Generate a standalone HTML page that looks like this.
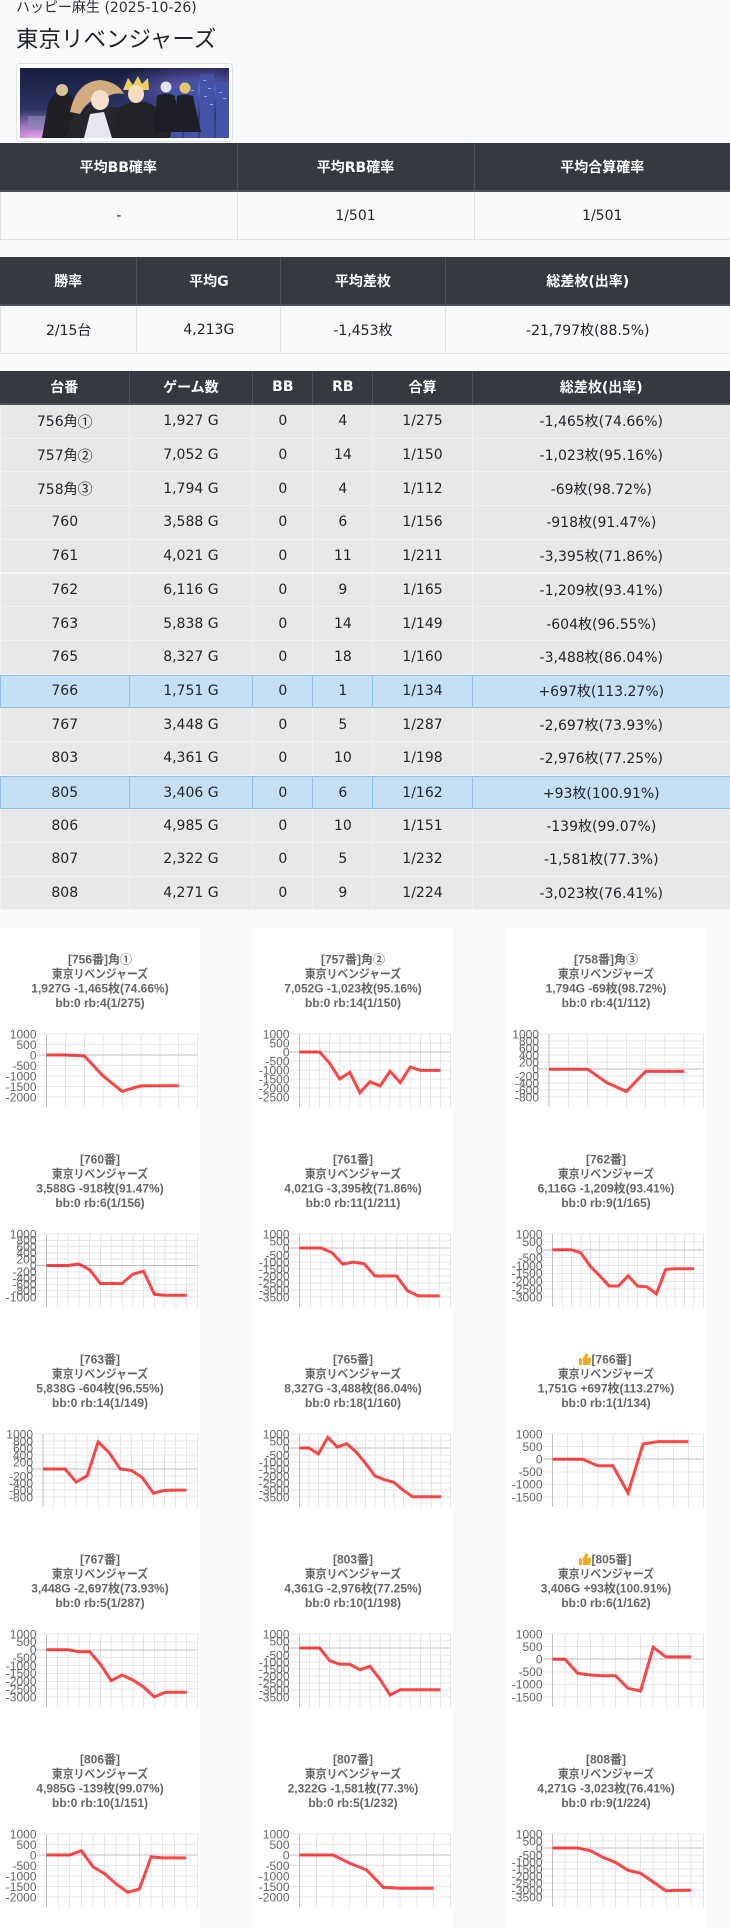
<!DOCTYPE html>
<html><head><meta charset="utf-8">
<style>
*{margin:0;padding:0;box-sizing:border-box}
body{width:730px;height:1928px;background:#f8f9fa;position:relative;overflow:hidden;font-family:"DejaVu Sans","Noto Sans CJK JP",sans-serif;color:#212529}
.sub{position:absolute;left:16px;top:-2px;font-size:14px;line-height:21px;color:#2b2f33;white-space:nowrap}
.h{position:absolute;left:16px;top:23px;font-size:22.5px;line-height:30px;font-family:"Noto Sans CJK JP",sans-serif;color:#212529;white-space:nowrap}
.tb{position:absolute;left:16px;top:63px;width:217px;height:79px;border:1px solid #dee2e6;border-radius:4px;background:#fff}
.r{position:absolute;left:0;width:730px;display:flex}
.r>div{display:flex;align-items:center;justify-content:center;white-space:nowrap;font-size:14px}
.c{font-family:"Noto Sans CJK JP",sans-serif;font-size:15px}
.hd{background:#343a40;color:#fff;font-weight:bold;border-bottom:2px solid #4b5259}
.hd>div{border-left:1px solid #4b5259}
.hd>div:first-child{border-left:none}
.dt{background:#f8f9fa;border-bottom:1px solid #dee2e6}
.dt>div{border-left:1px solid #dee2e6}
.g{background:#e8e8e8;border-bottom:1px solid #f1f1f1;height:33.7px}
.g>div{border-left:1px solid #f1f1f1}
.b{background:#c5e0f5;border-top:1px solid #8dc0ec;border-bottom:1px solid #8dc0ec;height:33.7px}
.b>div{border-left:1px solid #8dc0ec}
.t1>div:nth-child(1){width:236.5px}.t1>div:nth-child(2){width:237px}.t1>div:nth-child(3){width:256.5px}
.t2>div:nth-child(1){width:136.4px}.t2>div:nth-child(2){width:143.9px}.t2>div:nth-child(3){width:164.3px}.t2>div:nth-child(4){width:285.4px}
.t3>div:nth-child(1){width:128.5px}.t3>div:nth-child(2){width:123.8px}.t3>div:nth-child(3){width:60.1px}.t3>div:nth-child(4){width:60px}.t3>div:nth-child(5){width:99.2px}.t3>div:nth-child(6){width:258.4px}
svg .t{font:bold 12px "Liberation Sans","Noto Sans CJK JP",sans-serif;fill:#666;text-anchor:middle}
svg .ts{font:bold 12px "Liberation Sans","Noto Sans CJK JP",sans-serif;fill:#666;text-anchor:start}
svg .gl{stroke:#e6e6e6;stroke-width:1;fill:none;shape-rendering:crispEdges}
svg .zl{stroke:#bfbfbf;stroke-width:1;fill:none;shape-rendering:crispEdges}
svg .yl text{font:12px "Liberation Sans",sans-serif;fill:#666;text-anchor:end}
svg .ln{fill:none;stroke:rgba(255,0,0,.72);stroke-width:3;stroke-linejoin:miter}
</style></head><body>

<div class="sub">ハッピー麻生 (2025-10-26)</div>
<div class="h">東京リベンジャーズ</div>
<div class="tb"></div>
<svg style="position:absolute;left:20px;top:68px" width="209" height="70" viewBox="0 0 209 70">
<defs>
<linearGradient id="bg" x1="0" y1="0" x2="0" y2="1"><stop offset="0" stop-color="#161d3c"/><stop offset="0.6" stop-color="#2c3566"/><stop offset="1" stop-color="#3e4380"/></linearGradient>
<radialGradient id="glw" cx="0.08" cy="1" r="0.4"><stop offset="0" stop-color="#f0a0f0"/><stop offset="1" stop-color="#f0a0f0" stop-opacity="0"/></radialGradient>
<radialGradient id="glw2" cx="0.85" cy="0.3" r="0.4"><stop offset="0" stop-color="#6a62c8"/><stop offset="1" stop-color="#6a62c8" stop-opacity="0"/></radialGradient>
</defs>
<rect width="209" height="70" fill="url(#bg)"/>
<rect width="209" height="70" fill="url(#glw2)"/>
<rect width="209" height="70" fill="url(#glw)"/>
<g fill="#4354a8"><rect x="150" y="20" width="12" height="50"/><rect x="164" y="12" width="14" height="58"/><rect x="180" y="6" width="14" height="64"/><rect x="196" y="14" width="13" height="56"/></g>
<g fill="#a9bcff" opacity=".75"><rect x="166" y="18" width="3" height="1"/><rect x="171" y="22" width="3" height="1"/><rect x="183" y="12" width="3" height="1"/><rect x="188" y="20" width="3" height="1"/><rect x="199" y="24" width="3" height="1"/><rect x="203" y="30" width="3" height="1"/><rect x="184" y="28" width="3" height="1"/><rect x="153" y="30" width="3" height="1"/><rect x="190" y="36" width="3" height="1"/><rect x="168" y="40" width="3" height="1"/></g>
<rect x="8" y="48" width="22" height="14" fill="#8a8ab8" opacity=".6"/>
<path d="M22 70 L28 36 Q34 22 44 24 Q54 26 58 40 L64 70 Z" fill="#1f1f26"/>
<circle cx="42" cy="22" r="6" fill="#d9c49a"/>
<path d="M46 70 L56 42 Q70 34 82 40 Q98 36 114 46 L120 70 Z" fill="#25252c"/>
<path d="M70 46 L84 44 L92 70 L64 70 Z" fill="#e6e6ee"/>
<path d="M50 44 Q56 14 80 12 Q98 14 104 26 Q92 24 86 30 Q70 28 60 46 Z" fill="#d2ab80"/>
<ellipse cx="80" cy="32" rx="9" ry="10" fill="#f3dfcc"/>
<path d="M92 70 L98 40 Q110 32 126 34 Q142 40 152 60 L150 70 Z" fill="#23232a"/>
<path d="M103 22 L108 10 L113 17 L118 8 L122 16 L128 10 L129 22 Z" fill="#f0cd60"/>
<ellipse cx="116" cy="26" rx="8" ry="9" fill="#f5dcc2"/>
<path d="M134 64 L137 28 Q146 23 155 28 L160 64 Z" fill="#1e1e26"/>
<circle cx="146" cy="19" r="5.5" fill="#e4e4ea"/>
<path d="M154 64 L157 28 Q165 25 173 28 L181 64 Z" fill="#1e1e26"/>
<circle cx="165" cy="20" r="5.5" fill="#e8c86c"/>
</svg>

<!-- Table 1 -->
<div class="r hd t1" style="top:143px;height:49px"><div>平均BB確率</div><div>平均RB確率</div><div>平均合算確率</div></div>
<div class="r dt t1" style="top:192px;height:48px"><div>-</div><div>1/501</div><div>1/501</div></div>

<!-- Table 2 -->
<div class="r hd t2" style="top:257px;height:49px"><div>勝率</div><div>平均G</div><div>平均差枚</div><div>総差枚(出率)</div></div>
<div class="r dt t2" style="top:306px;height:48px"><div>2/15台</div><div>4,213G</div><div>-1,453枚</div><div>-21,797枚(88.5%)</div></div>

<!-- Table 3 -->
<div class="r hd t3" style="top:371px;height:34px"><div>台番</div><div>ゲーム数</div><div>BB</div><div>RB</div><div>合算</div><div>総差枚(出率)</div></div>
<div class="r g t3" style="top:405px"><div>756角<span class="c">①</span></div><div>1,927 G</div><div>0</div><div>4</div><div>1/275</div><div>-1,465枚(74.66%)</div></div>
<div class="r g t3" style="top:438.7px"><div>757角<span class="c">②</span></div><div>7,052 G</div><div>0</div><div>14</div><div>1/150</div><div>-1,023枚(95.16%)</div></div>
<div class="r g t3" style="top:472.4px"><div>758角<span class="c">③</span></div><div>1,794 G</div><div>0</div><div>4</div><div>1/112</div><div>-69枚(98.72%)</div></div>
<div class="r g t3" style="top:506.1px"><div>760</div><div>3,588 G</div><div>0</div><div>6</div><div>1/156</div><div>-918枚(91.47%)</div></div>
<div class="r g t3" style="top:539.8px"><div>761</div><div>4,021 G</div><div>0</div><div>11</div><div>1/211</div><div>-3,395枚(71.86%)</div></div>
<div class="r g t3" style="top:573.5px"><div>762</div><div>6,116 G</div><div>0</div><div>9</div><div>1/165</div><div>-1,209枚(93.41%)</div></div>
<div class="r g t3" style="top:607.2px"><div>763</div><div>5,838 G</div><div>0</div><div>14</div><div>1/149</div><div>-604枚(96.55%)</div></div>
<div class="r g t3" style="top:640.9px"><div>765</div><div>8,327 G</div><div>0</div><div>18</div><div>1/160</div><div>-3,488枚(86.04%)</div></div>
<div class="r b t3" style="top:674.6px"><div>766</div><div>1,751 G</div><div>0</div><div>1</div><div>1/134</div><div>+697枚(113.27%)</div></div>
<div class="r g t3" style="top:708.3px"><div>767</div><div>3,448 G</div><div>0</div><div>5</div><div>1/287</div><div>-2,697枚(73.93%)</div></div>
<div class="r g t3" style="top:742px"><div>803</div><div>4,361 G</div><div>0</div><div>10</div><div>1/198</div><div>-2,976枚(77.25%)</div></div>
<div class="r b t3" style="top:775.7px"><div>805</div><div>3,406 G</div><div>0</div><div>6</div><div>1/162</div><div>+93枚(100.91%)</div></div>
<div class="r g t3" style="top:809.4px"><div>806</div><div>4,985 G</div><div>0</div><div>10</div><div>1/151</div><div>-139枚(99.07%)</div></div>
<div class="r g t3" style="top:843.1px"><div>807</div><div>2,322 G</div><div>0</div><div>5</div><div>1/232</div><div>-1,581枚(77.3%)</div></div>
<div class="r g t3" style="top:876.8px"><div>808</div><div>4,271 G</div><div>0</div><div>9</div><div>1/224</div><div>-3,023枚(76.41%)</div></div>

<!-- Charts -->
<svg style="position:absolute;left:0;top:928px" width="730" height="1000" viewBox="0 0 730 1000">
<rect x="0" y="0" width="200" height="1000" fill="#fff"/>
<rect x="253" y="0" width="200" height="1000" fill="#fff"/>
<rect x="506" y="0" width="200" height="1000" fill="#fff"/>

<!-- 756 -->
<g transform="translate(0,0)">
<text class="t" x="100" y="35.6">[756番]角①</text>
<text class="t" x="100" y="50" textLength="96" lengthAdjust="spacingAndGlyphs">東京リベンジャーズ</text>
<text class="t" x="100" y="64.4">1,927G -1,465枚(74.66%)</text>
<text class="t" x="100" y="78.8">bb:0 rb:4(1/275)</text>
<path class="gl" d="M36.5 106H197.5M36.5 116.5H197.5M36.5 137.5H197.5M36.5 148H197.5M36.5 158.5H197.5M36.5 169H197.5M65.38 106V179M84.25 106V179M103.13 106V179M122 106V179M140.88 106V179M159.75 106V179M178.63 106V179M197.5 106V179"/>
<path class="zl" d="M46.5 106V179M36.5 127H197.5"/>
<g class="yl" transform="translate(36.5,4.3)"><text y="106">1000</text><text y="116.5">500</text><text y="127">0</text><text y="137.5">-500</text><text y="148">-1000</text><text y="158.5">-1500</text><text y="169">-2000</text></g>
<polyline class="ln" points="46.5,127 65.38,127 84.25,127.9 103.13,148 122,163.3 140.88,157.9 159.75,157.8 178.63,157.8"/>
</g>

<!-- 757 -->
<g transform="translate(253,0)">
<text class="t" x="100" y="35.6">[757番]角②</text>
<text class="t" x="100" y="50" textLength="96" lengthAdjust="spacingAndGlyphs">東京リベンジャーズ</text>
<text class="t" x="100" y="64.4">7,052G -1,023枚(95.16%)</text>
<text class="t" x="100" y="78.8">bb:0 rb:14(1/150)</text>
<path class="gl" d="M36.5 106H197.5M36.5 115H197.5M36.5 133H197.5M36.5 142H197.5M36.5 151H197.5M36.5 160H197.5M36.5 169H197.5M56.57 106V179M66.63 106V179M76.7 106V179M86.77 106V179M96.83 106V179M106.9 106V179M116.97 106V179M127.03 106V179M137.1 106V179M147.17 106V179M157.23 106V179M167.3 106V179M177.37 106V179M187.43 106V179M197.5 106V179"/>
<path class="zl" d="M46.5 106V179M36.5 124H197.5"/>
<g class="yl" transform="translate(36.5,4.3)"><text y="106">1000</text><text y="115">500</text><text y="124">0</text><text y="133">-500</text><text y="142">-1000</text><text y="151">-1500</text><text y="160">-2000</text><text y="169">-2500</text></g>
<polyline class="ln" points="46.5,124 56.57,124 66.63,124 76.7,135.3 86.77,151 96.83,144.3 106.9,164.7 116.97,153.7 127.03,158 137.1,143.3 147.17,154.7 157.23,139 167.3,142.4 177.37,142.4 187.43,142.4"/>
</g>

<!-- 758 -->
<g transform="translate(506,0)">
<text class="t" x="100" y="35.6">[758番]角③</text>
<text class="t" x="100" y="50" textLength="96" lengthAdjust="spacingAndGlyphs">東京リベンジャーズ</text>
<text class="t" x="100" y="64.4">1,794G -69枚(98.72%)</text>
<text class="t" x="100" y="78.8">bb:0 rb:4(1/112)</text>
<path class="gl" d="M33 106H197.5M33 113H197.5M33 120H197.5M33 127H197.5M33 134H197.5M33 148H197.5M33 155H197.5M33 162H197.5M33 169H197.5M62.31 106V179M81.63 106V179M100.94 106V179M120.25 106V179M139.56 106V179M158.88 106V179M178.19 106V179M197.5 106V179"/>
<path class="zl" d="M43 106V179M33 141H197.5"/>
<g class="yl" transform="translate(33,4.3)"><text y="106">1000</text><text y="113">800</text><text y="120">600</text><text y="127">400</text><text y="134">200</text><text y="141">0</text><text y="148">-200</text><text y="155">-400</text><text y="162">-600</text><text y="169">-800</text></g>
<polyline class="ln" points="43,141.2 62.31,141.2 81.63,141.2 100.94,154.7 120.25,163.4 139.56,143.4 158.88,143.4 178.19,143.4"/>
</g>

<!-- 760 -->
<g transform="translate(0,200)">
<text class="t" x="100" y="35.6">[760番]</text>
<text class="t" x="100" y="50" textLength="96" lengthAdjust="spacingAndGlyphs">東京リベンジャーズ</text>
<text class="t" x="100" y="64.4">3,588G -918枚(91.47%)</text>
<text class="t" x="100" y="78.8">bb:0 rb:6(1/156)</text>
<path class="gl" d="M36.5 106H197.5M36.5 112.3H197.5M36.5 118.6H197.5M36.5 124.9H197.5M36.5 131.2H197.5M36.5 143.8H197.5M36.5 150.1H197.5M36.5 156.4H197.5M36.5 162.7H197.5M36.5 169H197.5M57.29 106V179M68.07 106V179M78.86 106V179M89.64 106V179M100.43 106V179M111.21 106V179M122 106V179M132.79 106V179M143.57 106V179M154.36 106V179M165.14 106V179M175.93 106V179M186.71 106V179M197.5 106V179"/>
<path class="zl" d="M46.5 106V179M36.5 137.5H197.5"/>
<g class="yl" transform="translate(36.5,4.3)"><text y="106">1000</text><text y="112.3">800</text><text y="118.6">600</text><text y="124.9">400</text><text y="131.2">200</text><text y="137.5">0</text><text y="143.8">-200</text><text y="150.1">-400</text><text y="156.4">-600</text><text y="162.7">-800</text><text y="169">-1000</text></g>
<polyline class="ln" points="46.5,137.5 57.29,137.5 68.07,137.5 78.86,135.9 89.64,141.8 100.43,155.5 111.21,155.5 122,155.5 132.79,146.2 143.57,143.2 154.36,166.3 165.14,167.3 175.93,167.3 186.71,167.3"/>
</g>

<!-- 761 -->
<g transform="translate(253,200)">
<text class="t" x="100" y="35.6">[761番]</text>
<text class="t" x="100" y="50" textLength="96" lengthAdjust="spacingAndGlyphs">東京リベンジャーズ</text>
<text class="t" x="100" y="64.4">4,021G -3,395枚(71.86%)</text>
<text class="t" x="100" y="78.8">bb:0 rb:11(1/211)</text>
<path class="gl" d="M36.5 106H197.5M36.5 113H197.5M36.5 127H197.5M36.5 134H197.5M36.5 141H197.5M36.5 148H197.5M36.5 155H197.5M36.5 162H197.5M36.5 169H197.5M57.29 106V179M68.07 106V179M78.86 106V179M89.64 106V179M100.43 106V179M111.21 106V179M122 106V179M132.79 106V179M143.57 106V179M154.36 106V179M165.14 106V179M175.93 106V179M186.71 106V179M197.5 106V179"/>
<path class="zl" d="M46.5 106V179M36.5 120H197.5"/>
<g class="yl" transform="translate(36.5,4.3)"><text y="106">1000</text><text y="113">500</text><text y="120">0</text><text y="127">-500</text><text y="134">-1000</text><text y="141">-1500</text><text y="148">-2000</text><text y="155">-2500</text><text y="162">-3000</text><text y="169">-3500</text></g>
<polyline class="ln" points="46.5,120 57.29,120 68.07,120 78.86,124.6 89.64,136.1 100.43,134.1 111.21,135.8 122,148 132.79,148 143.57,148 154.36,162.7 165.14,167.9 175.93,167.9 186.71,167.9"/>
</g>

<!-- 762 -->
<g transform="translate(506,200)">
<text class="t" x="100" y="35.6">[762番]</text>
<text class="t" x="100" y="50" textLength="96" lengthAdjust="spacingAndGlyphs">東京リベンジャーズ</text>
<text class="t" x="100" y="64.4">6,116G -1,209枚(93.41%)</text>
<text class="t" x="100" y="78.8">bb:0 rb:9(1/165)</text>
<path class="gl" d="M36.5 106H197.5M36.5 113.88H197.5M36.5 129.63H197.5M36.5 137.5H197.5M36.5 145.38H197.5M36.5 153.25H197.5M36.5 161.13H197.5M36.5 169H197.5M55.94 106V179M65.38 106V179M74.81 106V179M84.25 106V179M93.69 106V179M103.13 106V179M112.56 106V179M122 106V179M131.44 106V179M140.88 106V179M150.31 106V179M159.75 106V179M169.19 106V179M178.63 106V179M188.06 106V179M197.5 106V179"/>
<path class="zl" d="M46.5 106V179M36.5 121.75H197.5"/>
<g class="yl" transform="translate(36.5,4.3)"><text y="106">1000</text><text y="113.88">500</text><text y="121.75">0</text><text y="129.63">-500</text><text y="137.5">-1000</text><text y="145.38">-1500</text><text y="153.25">-2000</text><text y="161.13">-2500</text><text y="169">-3000</text></g>
<polyline class="ln" points="46.5,121.75 55.94,121.75 65.38,121.75 74.81,124.9 84.25,138.3 93.69,147.7 103.13,158 112.56,158 122,147.7 131.44,158 140.88,158.8 150.31,165.9 159.75,141.4 169.19,140.8 178.63,140.8 188.06,140.8"/>
</g>

<!-- 763 -->
<g transform="translate(0,400)">
<text class="t" x="100" y="35.6">[763番]</text>
<text class="t" x="100" y="50" textLength="96" lengthAdjust="spacingAndGlyphs">東京リベンジャーズ</text>
<text class="t" x="100" y="64.4">5,838G -604枚(96.55%)</text>
<text class="t" x="100" y="78.8">bb:0 rb:14(1/149)</text>
<path class="gl" d="M33 106H197.5M33 113H197.5M33 120H197.5M33 127H197.5M33 134H197.5M33 148H197.5M33 155H197.5M33 162H197.5M33 169H197.5M54.04 106V179M65.07 106V179M76.11 106V179M87.14 106V179M98.18 106V179M109.21 106V179M120.25 106V179M131.29 106V179M142.32 106V179M153.36 106V179M164.39 106V179M175.43 106V179M186.46 106V179M197.5 106V179"/>
<path class="zl" d="M43 106V179M33 141H197.5"/>
<g class="yl" transform="translate(33,4.3)"><text y="106">1000</text><text y="113">800</text><text y="120">600</text><text y="127">400</text><text y="134">200</text><text y="141">0</text><text y="148">-200</text><text y="155">-400</text><text y="162">-600</text><text y="169">-800</text></g>
<polyline class="ln" points="43,141 54.04,141 65.07,141 76.11,154 87.14,147.8 98.18,113.9 109.21,124.7 120.25,141 131.29,142.4 142.32,149.6 153.36,165.2 164.39,162.4 175.43,162.1 186.46,162.1"/>
</g>

<!-- 765 -->
<g transform="translate(253,400)">
<text class="t" x="100" y="35.6">[765番]</text>
<text class="t" x="100" y="50" textLength="96" lengthAdjust="spacingAndGlyphs">東京リベンジャーズ</text>
<text class="t" x="100" y="64.4">8,327G -3,488枚(86.04%)</text>
<text class="t" x="100" y="78.8">bb:0 rb:18(1/160)</text>
<path class="gl" d="M36.5 106H197.5M36.5 113H197.5M36.5 127H197.5M36.5 134H197.5M36.5 141H197.5M36.5 148H197.5M36.5 155H197.5M36.5 162H197.5M36.5 169H197.5M55.94 106V179M65.38 106V179M74.81 106V179M84.25 106V179M93.69 106V179M103.13 106V179M112.56 106V179M122 106V179M131.44 106V179M140.88 106V179M150.31 106V179M159.75 106V179M169.19 106V179M178.63 106V179M188.06 106V179M197.5 106V179"/>
<path class="zl" d="M46.5 106V179M36.5 120H197.5"/>
<g class="yl" transform="translate(36.5,4.3)"><text y="106">1000</text><text y="113">500</text><text y="120">0</text><text y="127">-500</text><text y="134">-1000</text><text y="141">-1500</text><text y="148">-2000</text><text y="155">-2500</text><text y="162">-3000</text><text y="169">-3500</text></g>
<polyline class="ln" points="46.5,120 55.94,120 65.38,126 74.81,109.3 84.25,119 93.69,115.7 103.13,124 112.56,135.3 122,148 131.44,151.7 140.88,154.3 150.31,162.3 159.75,168.8 169.19,168.8 178.63,168.8 188.06,168.8"/>
</g>

<!-- 766 -->
<g transform="translate(506,400)">
<g fill="#f2a81d"><rect x="73" y="30.5" width="3" height="6.5" rx="0.5"/><path d="M76.8 30.5 L79.5 26 Q80.5 24.6 81.6 25.4 Q82.2 26 81.8 27.5 L81.2 29.6 H84 Q85.3 29.6 85.1 31 L84.3 36 Q84.1 37 83 37 H76.8 Z"/></g>
<text class="ts" x="85.5" y="35.6">[766番]</text>
<text class="t" x="100" y="50" textLength="96" lengthAdjust="spacingAndGlyphs">東京リベンジャーズ</text>
<text class="t" x="100" y="64.4">1,751G +697枚(113.27%)</text>
<text class="t" x="100" y="78.8">bb:0 rb:1(1/134)</text>
<path class="gl" d="M36.5 106H197.5M36.5 118.6H197.5M36.5 143.8H197.5M36.5 156.4H197.5M36.5 169H197.5M61.6 106V179M76.7 106V179M91.8 106V179M106.9 106V179M122 106V179M137.1 106V179M152.2 106V179M167.3 106V179M182.4 106V179M197.5 106V179"/>
<path class="zl" d="M46.5 106V179M36.5 131.2H197.5"/>
<g class="yl" transform="translate(36.5,4.3)"><text y="106">1000</text><text y="118.6">500</text><text y="131.2">0</text><text y="143.8">-500</text><text y="156.4">-1000</text><text y="169">-1500</text></g>
<polyline class="ln" points="46.5,131.2 61.6,131.2 76.7,131.2 91.8,137.7 106.9,137.7 122,165 137.1,116 152.2,113.6 167.3,113.6 182.4,113.6"/>
</g>

<!-- 767 -->
<g transform="translate(0,600)">
<text class="t" x="100" y="35.6">[767番]</text>
<text class="t" x="100" y="50" textLength="96" lengthAdjust="spacingAndGlyphs">東京リベンジャーズ</text>
<text class="t" x="100" y="64.4">3,448G -2,697枚(73.93%)</text>
<text class="t" x="100" y="78.8">bb:0 rb:5(1/287)</text>
<path class="gl" d="M36.5 106H197.5M36.5 113.88H197.5M36.5 129.63H197.5M36.5 137.5H197.5M36.5 145.38H197.5M36.5 153.25H197.5M36.5 161.13H197.5M36.5 169H197.5M57.29 106V179M68.07 106V179M78.86 106V179M89.64 106V179M100.43 106V179M111.21 106V179M122 106V179M132.79 106V179M143.57 106V179M154.36 106V179M165.14 106V179M175.93 106V179M186.71 106V179M197.5 106V179"/>
<path class="zl" d="M46.5 106V179M36.5 121.75H197.5"/>
<g class="yl" transform="translate(36.5,4.3)"><text y="106">1000</text><text y="113.88">500</text><text y="121.75">0</text><text y="129.63">-500</text><text y="137.5">-1000</text><text y="145.38">-1500</text><text y="153.25">-2000</text><text y="161.13">-2500</text><text y="169">-3000</text></g>
<polyline class="ln" points="46.5,121.75 57.29,121.75 68.07,121.75 78.86,123.7 89.64,123.7 100.43,136.3 111.21,152.7 122,147 132.79,152 143.57,159 154.36,169 165.14,164.2 175.93,164.2 186.71,164.2"/>
</g>

<!-- 803 -->
<g transform="translate(253,600)">
<text class="t" x="100" y="35.6">[803番]</text>
<text class="t" x="100" y="50" textLength="96" lengthAdjust="spacingAndGlyphs">東京リベンジャーズ</text>
<text class="t" x="100" y="64.4">4,361G -2,976枚(77.25%)</text>
<text class="t" x="100" y="78.8">bb:0 rb:10(1/198)</text>
<path class="gl" d="M36.5 106H197.5M36.5 113H197.5M36.5 127H197.5M36.5 134H197.5M36.5 141H197.5M36.5 148H197.5M36.5 155H197.5M36.5 162H197.5M36.5 169H197.5M56.57 106V179M66.63 106V179M76.7 106V179M86.77 106V179M96.83 106V179M106.9 106V179M116.97 106V179M127.03 106V179M137.1 106V179M147.17 106V179M157.23 106V179M167.3 106V179M177.37 106V179M187.43 106V179M197.5 106V179"/>
<path class="zl" d="M46.5 106V179M36.5 120H197.5"/>
<g class="yl" transform="translate(36.5,4.3)"><text y="106">1000</text><text y="113">500</text><text y="120">0</text><text y="127">-500</text><text y="134">-1000</text><text y="141">-1500</text><text y="148">-2000</text><text y="155">-2500</text><text y="162">-3000</text><text y="169">-3500</text></g>
<polyline class="ln" points="46.5,120 56.57,120 66.63,120 76.7,132.7 86.77,136.3 96.83,136.3 106.9,141.7 116.97,138.3 127.03,151.3 137.1,167 147.17,161.7 157.23,161.7 167.3,161.7 177.37,161.7 187.43,161.7"/>
</g>

<!-- 805 -->
<g transform="translate(506,600)">
<g fill="#f2a81d"><rect x="73" y="30.5" width="3" height="6.5" rx="0.5"/><path d="M76.8 30.5 L79.5 26 Q80.5 24.6 81.6 25.4 Q82.2 26 81.8 27.5 L81.2 29.6 H84 Q85.3 29.6 85.1 31 L84.3 36 Q84.1 37 83 37 H76.8 Z"/></g>
<text class="ts" x="85.5" y="35.6">[805番]</text>
<text class="t" x="100" y="50" textLength="96" lengthAdjust="spacingAndGlyphs">東京リベンジャーズ</text>
<text class="t" x="100" y="64.4">3,406G +93枚(100.91%)</text>
<text class="t" x="100" y="78.8">bb:0 rb:6(1/162)</text>
<path class="gl" d="M36.5 106H197.5M36.5 118.6H197.5M36.5 143.8H197.5M36.5 156.4H197.5M36.5 169H197.5M59.08 106V179M71.67 106V179M84.25 106V179M96.83 106V179M109.42 106V179M122 106V179M134.58 106V179M147.17 106V179M159.75 106V179M172.33 106V179M184.92 106V179M197.5 106V179"/>
<path class="zl" d="M46.5 106V179M36.5 131.2H197.5"/>
<g class="yl" transform="translate(36.5,4.3)"><text y="106">1000</text><text y="118.6">500</text><text y="131.2">0</text><text y="143.8">-500</text><text y="156.4">-1000</text><text y="169">-1500</text></g>
<polyline class="ln" points="46.5,131.2 59.08,131.2 71.67,145.3 84.25,147 96.83,147.7 109.42,147.7 122,160.3 134.58,163 147.17,119.3 159.75,128.9 172.33,128.9 184.92,128.9"/>
</g>

<!-- 806 -->
<g transform="translate(0,800)">
<text class="t" x="100" y="35.6">[806番]</text>
<text class="t" x="100" y="50" textLength="96" lengthAdjust="spacingAndGlyphs">東京リベンジャーズ</text>
<text class="t" x="100" y="64.4">4,985G -139枚(99.07%)</text>
<text class="t" x="100" y="78.8">bb:0 rb:10(1/151)</text>
<path class="gl" d="M36.5 106H197.5M36.5 116.5H197.5M36.5 137.5H197.5M36.5 148H197.5M36.5 158.5H197.5M36.5 169H197.5M58.12 106V179M69.73 106V179M81.35 106V179M92.96 106V179M104.58 106V179M116.19 106V179M127.81 106V179M139.42 106V179M151.04 106V179M162.65 106V179M174.27 106V179M185.88 106V179M197.5 106V179"/>
<path class="zl" d="M46.5 106V179M36.5 127H197.5"/>
<g class="yl" transform="translate(36.5,4.3)"><text y="106">1000</text><text y="116.5">500</text><text y="127">0</text><text y="137.5">-500</text><text y="148">-1000</text><text y="158.5">-1500</text><text y="169">-2000</text></g>
<polyline class="ln" points="46.5,127 58.12,127 69.73,127 81.35,122.7 92.96,138.7 104.58,145.7 116.19,156 127.81,164.3 139.42,161 151.04,129 162.65,129.9 174.27,129.9 185.88,129.9"/>
</g>

<!-- 807 -->
<g transform="translate(253,800)">
<text class="t" x="100" y="35.6">[807番]</text>
<text class="t" x="100" y="50" textLength="96" lengthAdjust="spacingAndGlyphs">東京リベンジャーズ</text>
<text class="t" x="100" y="64.4">2,322G -1,581枚(77.3%)</text>
<text class="t" x="100" y="78.8">bb:0 rb:5(1/232)</text>
<path class="gl" d="M36.5 106H197.5M36.5 116.5H197.5M36.5 137.5H197.5M36.5 148H197.5M36.5 158.5H197.5M36.5 169H197.5M63.28 106V179M80.06 106V179M96.83 106V179M113.61 106V179M130.39 106V179M147.17 106V179M163.94 106V179M180.72 106V179M197.5 106V179"/>
<path class="zl" d="M46.5 106V179M36.5 127H197.5"/>
<g class="yl" transform="translate(36.5,4.3)"><text y="106">1000</text><text y="116.5">500</text><text y="127">0</text><text y="137.5">-500</text><text y="148">-1000</text><text y="158.5">-1500</text><text y="169">-2000</text></g>
<polyline class="ln" points="46.5,127 63.28,127 80.06,127 96.83,135.3 113.61,142 130.39,159.4 147.17,160.2 163.94,160.2 180.72,160.2"/>
</g>

<!-- 808 -->
<g transform="translate(506,800)">
<text class="t" x="100" y="35.6">[808番]</text>
<text class="t" x="100" y="50" textLength="96" lengthAdjust="spacingAndGlyphs">東京リベンジャーズ</text>
<text class="t" x="100" y="64.4">4,271G -3,023枚(76.41%)</text>
<text class="t" x="100" y="78.8">bb:0 rb:9(1/224)</text>
<path class="gl" d="M36.5 106H197.5M36.5 113H197.5M36.5 127H197.5M36.5 134H197.5M36.5 141H197.5M36.5 148H197.5M36.5 155H197.5M36.5 162H197.5M36.5 169H197.5M59.08 106V179M71.67 106V179M84.25 106V179M96.83 106V179M109.42 106V179M122 106V179M134.58 106V179M147.17 106V179M159.75 106V179M172.33 106V179M184.92 106V179M197.5 106V179"/>
<path class="zl" d="M46.5 106V179M36.5 120H197.5"/>
<g class="yl" transform="translate(36.5,4.3)"><text y="106">1000</text><text y="113">500</text><text y="120">0</text><text y="127">-500</text><text y="134">-1000</text><text y="141">-1500</text><text y="148">-2000</text><text y="155">-2500</text><text y="162">-3000</text><text y="169">-3500</text></g>
<polyline class="ln" points="46.5,120 59.08,120 71.67,120 84.25,122.7 96.83,129.3 109.42,134.3 122,142.3 134.58,145.3 147.17,154 159.75,162.7 172.33,162.3 184.92,162.3"/>
</g>
</svg>
</body></html>
